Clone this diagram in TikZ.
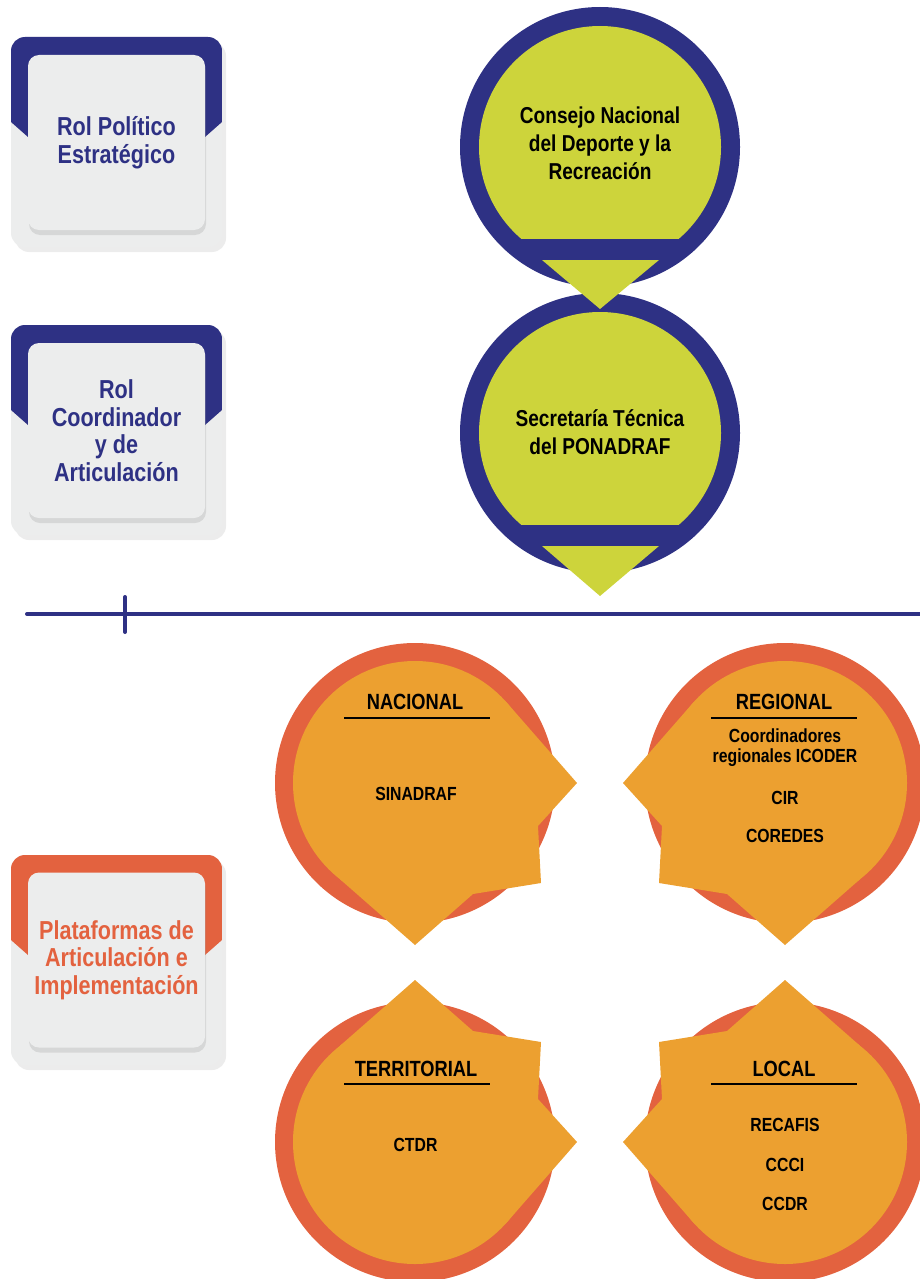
\documentclass[tikz,border=0pt]{standalone}
\usepackage{fontspec}
\setmainfont{Liberation Sans}[FakeStretch=0.83]
\usetikzlibrary{shadows}
\definecolor{rolnavy}{HTML}{2E3184}
\definecolor{limefill}{HTML}{CDD43B}
\definecolor{ringred}{HTML}{E3623F}
\definecolor{platorange}{HTML}{ECA030}
\definecolor{boxgrey}{HTML}{ECEDED}
\newcommand{\pointerfill}{%
	\fill[platorange] (0,0) circle (122);
	\fill[platorange] (0,0) -- (42:122) -- (162,0) -- (123,-43) -- (126,-100) -- (58,-111) -- (0,-162) -- (-128:122) -- cycle;}

\begin{document}
\begin{tikzpicture}[x=1pt,y=-1pt,
	outer box/.style = {fill=boxgrey, rounded corners=14pt, drop shadow={shadow xshift=4pt, shadow yshift=-5pt, opacity=.15}},
	inner box/.style = {fill=boxgrey, rounded corners=11pt, minimum width=177pt, minimum height=175pt, align=center,
		drop shadow={shadow xshift=1pt, shadow yshift=-5pt, opacity=.2}, font=\bfseries\fontsize{26}{27.5}\selectfont},
	circ text/.style = {align=center, font=\bfseries\fontsize{23}{28}\selectfont, text=black},
	level head/.style = {inner sep=0pt, font=\bfseries\fontsize{22}{24}\selectfont},
	level body/.style = {inner sep=0pt, align=center, font=\bfseries\fontsize{19}{20}\selectfont},
	head line/.style = {black, line width=1.3pt}]
	
	\useasboundingbox (0,0) rectangle (919,1279);
	
	\fill[outer box] (11,37) rectangle (222,247);
	\begin{scope}
		\clip[rounded corners=14pt] (11,37) rectangle (222,247);
		\fill[rolnavy] (11,37) -- (222,37) -- (222,122) -- (205,137) -- (28,137) -- (11,122) -- cycle;
	\end{scope}
	\node[inner box, text=rolnavy] (politico) at (116.5,142.5) {Rol Político\\Estratégico};
	
	\fill[outer box] (11,325) rectangle (222,535);
	\begin{scope}
		\clip[rounded corners=14pt] (11,325) rectangle (222,535);
		\fill[rolnavy] (11,325) -- (222,325) -- (222,410) -- (205,425) -- (28,425) -- (11,410) -- cycle;
	\end{scope}
	\node[inner box, text=rolnavy] (coordinador) at (116.5,430.5) {Rol\\Coordinador\\y de\\Articulación};
	
	\fill[outer box] (11,855) rectangle (222,1065);
	\begin{scope}
		\clip[rounded corners=14pt] (11,855) rectangle (222,1065);
		\fill[ringred] (11,855) -- (222,855) -- (222,940) -- (205,955) -- (28,955) -- (11,940) -- cycle;
	\end{scope}
	\node[inner box, text=ringred] (plataformas) at (116.5,960) {Plataformas de\\Articulación e\\Implementación};
	
	\fill[rolnavy] (600,433) circle (140);
	\begin{scope}
		\clip (440,280) rectangle (760,524);
		\fill[limefill] (600,433) circle (121);
	\end{scope}
	\fill[limefill] (542,546) -- (659,546) -- (600,596) -- cycle;
	\node[circ text] (secretaria) at (600,432) {Secretaría Técnica\\del PONADRAF};
	
	\fill[rolnavy] (600,147) circle (140);
	\begin{scope}
		\clip (440,0) rectangle (760,238);
		\fill[limefill] (600,147) circle (121);
	\end{scope}
	\fill[limefill] (542,260) -- (659,260) -- (600,309) -- cycle;
	\node[circ text] (consejo) at (600,143) {Consejo Nacional\\del Deporte y la\\Recreación};
	
	\draw[rolnavy, line width=4pt, line cap=round] (27,614) -- (930,614);
	\draw[rolnavy, line width=4pt, line cap=round] (125,597) -- (125,632);
	
	\fill[ringred] (415,783) circle (140);
	\begin{scope}[shift={(415,783)}, yscale=-1] \pointerfill \end{scope}
	\fill[ringred] (785,783) circle (140);
	\begin{scope}[shift={(785,783)}, xscale=-1, yscale=-1] \pointerfill \end{scope}
	\fill[ringred] (415,1142) circle (140);
	\begin{scope}[shift={(415,1142)}] \pointerfill \end{scope}
	\fill[ringred] (785,1142) circle (140);
	\begin{scope}[shift={(785,1142)}, xscale=-1] \pointerfill \end{scope}
	
	\node[level head] (nacional) at (415,701.5) {NACIONAL};
	\draw[head line] (344,718) -- (490,718);
	\node[level body] (sinadraf) at (416,793.5) {SINADRAF};
	
	\node[level head] (regional) at (784,701.5) {REGIONAL};
	\draw[head line] (711,718) -- (857,718);
	\node[level body] (icoder) at (785,748) {Coordinadores\\regionales ICODER};
	\node[level body] (cir) at (785,797.5) {CIR};
	\node[level body] (coredes) at (785,835.5) {COREDES};
	
	\node[level head] (territorial) at (416,1068.5) {TERRITORIAL};
	\draw[head line] (344,1084) -- (490,1084);
	\node[level body] (ctdr) at (415.5,1145) {CTDR};
	
	\node[level head] (local) at (784,1068.5) {LOCAL};
	\draw[head line] (711,1084) -- (857,1084);
	\node[level body] (recafis) at (785,1125) {RECAFIS};
	\node[level body] (ccci) at (785,1165) {CCCI};
	\node[level body] (ccdr) at (785,1204) {CCDR};
	
\end{tikzpicture}
\end{document}
